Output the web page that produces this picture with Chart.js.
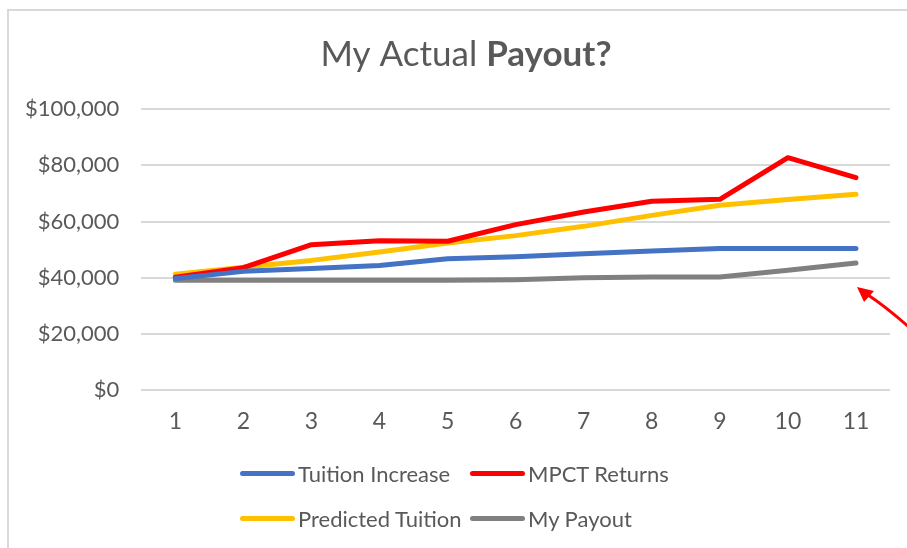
<!DOCTYPE html>
<html>
<head>
<meta charset="utf-8">
<script src="https://cdn.jsdelivr.net/npm/chart.js@4.4.1/dist/chart.umd.min.js"></script>
<style>
  html, body { margin: 0; padding: 0; background: #fff; }
  #wrap { position: relative; width: 907px; height: 548px; overflow: hidden; }
  #frame { position: absolute; left: 7px; top: 9px; right: -10px; bottom: -10px;
           border-left: 2px solid #d9d9d9; border-top: 2px solid #d9d9d9; }
  #grafico { position: absolute; left: 0; top: 0; }
  #leyenda { position: absolute; left: 240px; top: 458px;
             display: grid; grid-template-columns: 230px 200px; row-gap: 15px;
             font-family: Lato, "Open Sans", sans-serif; font-size: 22px; color: #595959; }
  .item { display: flex; align-items: center; height: 30px; white-space: nowrap; }
  .muestra { width: 55px; height: 5px; border-radius: 3px; margin-right: 3px; }
</style>
</head>
<body>
<div id="wrap">
  <div id="frame"></div>
  <canvas id="grafico" width="907" height="548"></canvas>
  <div id="leyenda"></div>
</div>
<script>
// Datos
const periodos = ['1', '2', '3', '4', '5', '6', '7', '8', '9', '10', '11'];
const aumentoMatricula = [39800, 42300, 43300, 44400, 46800, 47500, 48600, 49500, 50400, 50400, 50400];
const retornosMPCT = [40200, 43600, 51800, 53200, 53000, 58900, 63400, 67200, 67900, 82700, 75600];
const matriculaPrevista = [41300, 43800, 46200, 49200, 52400, 55000, 58300, 62200, 65800, 67800, 69700];
const miPago = [39100, 39100, 39100, 39100, 39100, 39300, 40000, 40300, 40300, 42700, 45300];
const ticksY = [0, 20000, 40000, 60000, 80000, 100000];

const colorAzul = '#4472C4';
const colorRojo = '#FF0000';
const colorAmarillo = '#FFC000';
const colorGris = '#808080';
const colorTexto = '#595959';
const fuente = 'Lato, "Open Sans", sans-serif';

const series = [
    { label: 'Tuition Increase', data: aumentoMatricula, color: colorAzul },
    { label: 'MPCT Returns', data: retornosMPCT, color: colorRojo },
    { label: 'Predicted Tuition', data: matriculaPrevista, color: colorAmarillo },
    { label: 'My Payout', data: miPago, color: colorGris }
];

// Título con parte en negrita
const tituloPlugin = {
    id: 'tituloMixto',
    afterDraw(chart) {
        const ctx = chart.ctx;
        ctx.save();
        ctx.fillStyle = colorTexto;
        ctx.textBaseline = 'middle';
        const parte1 = 'My Actual ';
        const parte2 = 'Payout?';
        ctx.font = '35px ' + fuente;
        const w1 = ctx.measureText(parte1).width;
        ctx.font = 'bold 35px ' + fuente;
        const w2 = ctx.measureText(parte2).width;
        const x0 = 466 - (w1 + w2) / 2;
        ctx.font = '35px ' + fuente;
        ctx.fillText(parte1, x0, 55);
        ctx.font = 'bold 35px ' + fuente;
        ctx.fillText(parte2, x0 + w1, 55);
        ctx.restore();
    }
};

// Flecha roja decorativa
const flechaPlugin = {
    id: 'flecha',
    afterDraw(chart) {
        const ctx = chart.ctx;
        ctx.save();
        ctx.strokeStyle = colorRojo;
        ctx.fillStyle = colorRojo;
        ctx.lineWidth = 3;
        ctx.beginPath();
        ctx.moveTo(910, 328);
        ctx.quadraticCurveTo(885, 306, 868, 295);
        ctx.stroke();
        ctx.beginPath();
        ctx.moveTo(857, 287);
        ctx.lineTo(874, 291);
        ctx.lineTo(864, 302);
        ctx.closePath();
        ctx.fill();
        ctx.restore();
    }
};

const ctxGrafico = document.getElementById('grafico').getContext('2d');
const grafico = new Chart(ctxGrafico, {
    type: 'line',
    data: {
        labels: periodos,
        datasets: series.map(s => ({
            label: s.label,
            data: s.data,
            borderColor: s.color,
            backgroundColor: s.color,
            borderWidth: 5,
            borderCapStyle: 'round',
            borderJoinStyle: 'round',
            pointRadius: 0,
            tension: 0
        }))
    },
    options: {
        responsive: false,
        animation: false,
        layout: { padding: { top: 109, right: 17, bottom: 96, left: 3 } },
        plugins: {
            legend: { display: false },
            title: { display: false },
            tooltip: { enabled: false }
        },
        scales: {
            x: {
                offset: true,
                grid: { display: false, drawTicks: false },
                border: { display: false },
                ticks: { color: colorTexto, font: { family: fuente, size: 23 }, padding: 17, maxRotation: 0 }
            },
            y: {
                min: 0,
                max: 100000,
                afterBuildTicks: (eje) => { eje.ticks = ticksY.map(v => ({ value: v })); },
                grid: { color: '#d9d9d9', lineWidth: 2, drawTicks: false },
                border: { display: false },
                ticks: {
                    color: colorTexto,
                    font: { family: fuente, size: 22 },
                    padding: 22,
                    callback: (v) => '$' + v.toLocaleString('en-US')
                }
            }
        }
    },
    plugins: [tituloPlugin, flechaPlugin]
});

// Leyenda en dos columnas
const leyenda = document.getElementById('leyenda');
series.forEach(s => {
    const item = document.createElement('div');
    item.className = 'item';
    const muestra = document.createElement('span');
    muestra.className = 'muestra';
    muestra.style.background = s.color;
    const texto = document.createElement('span');
    texto.textContent = s.label;
    item.appendChild(muestra);
    item.appendChild(texto);
    leyenda.appendChild(item);
});
</script>
</body>
</html>
